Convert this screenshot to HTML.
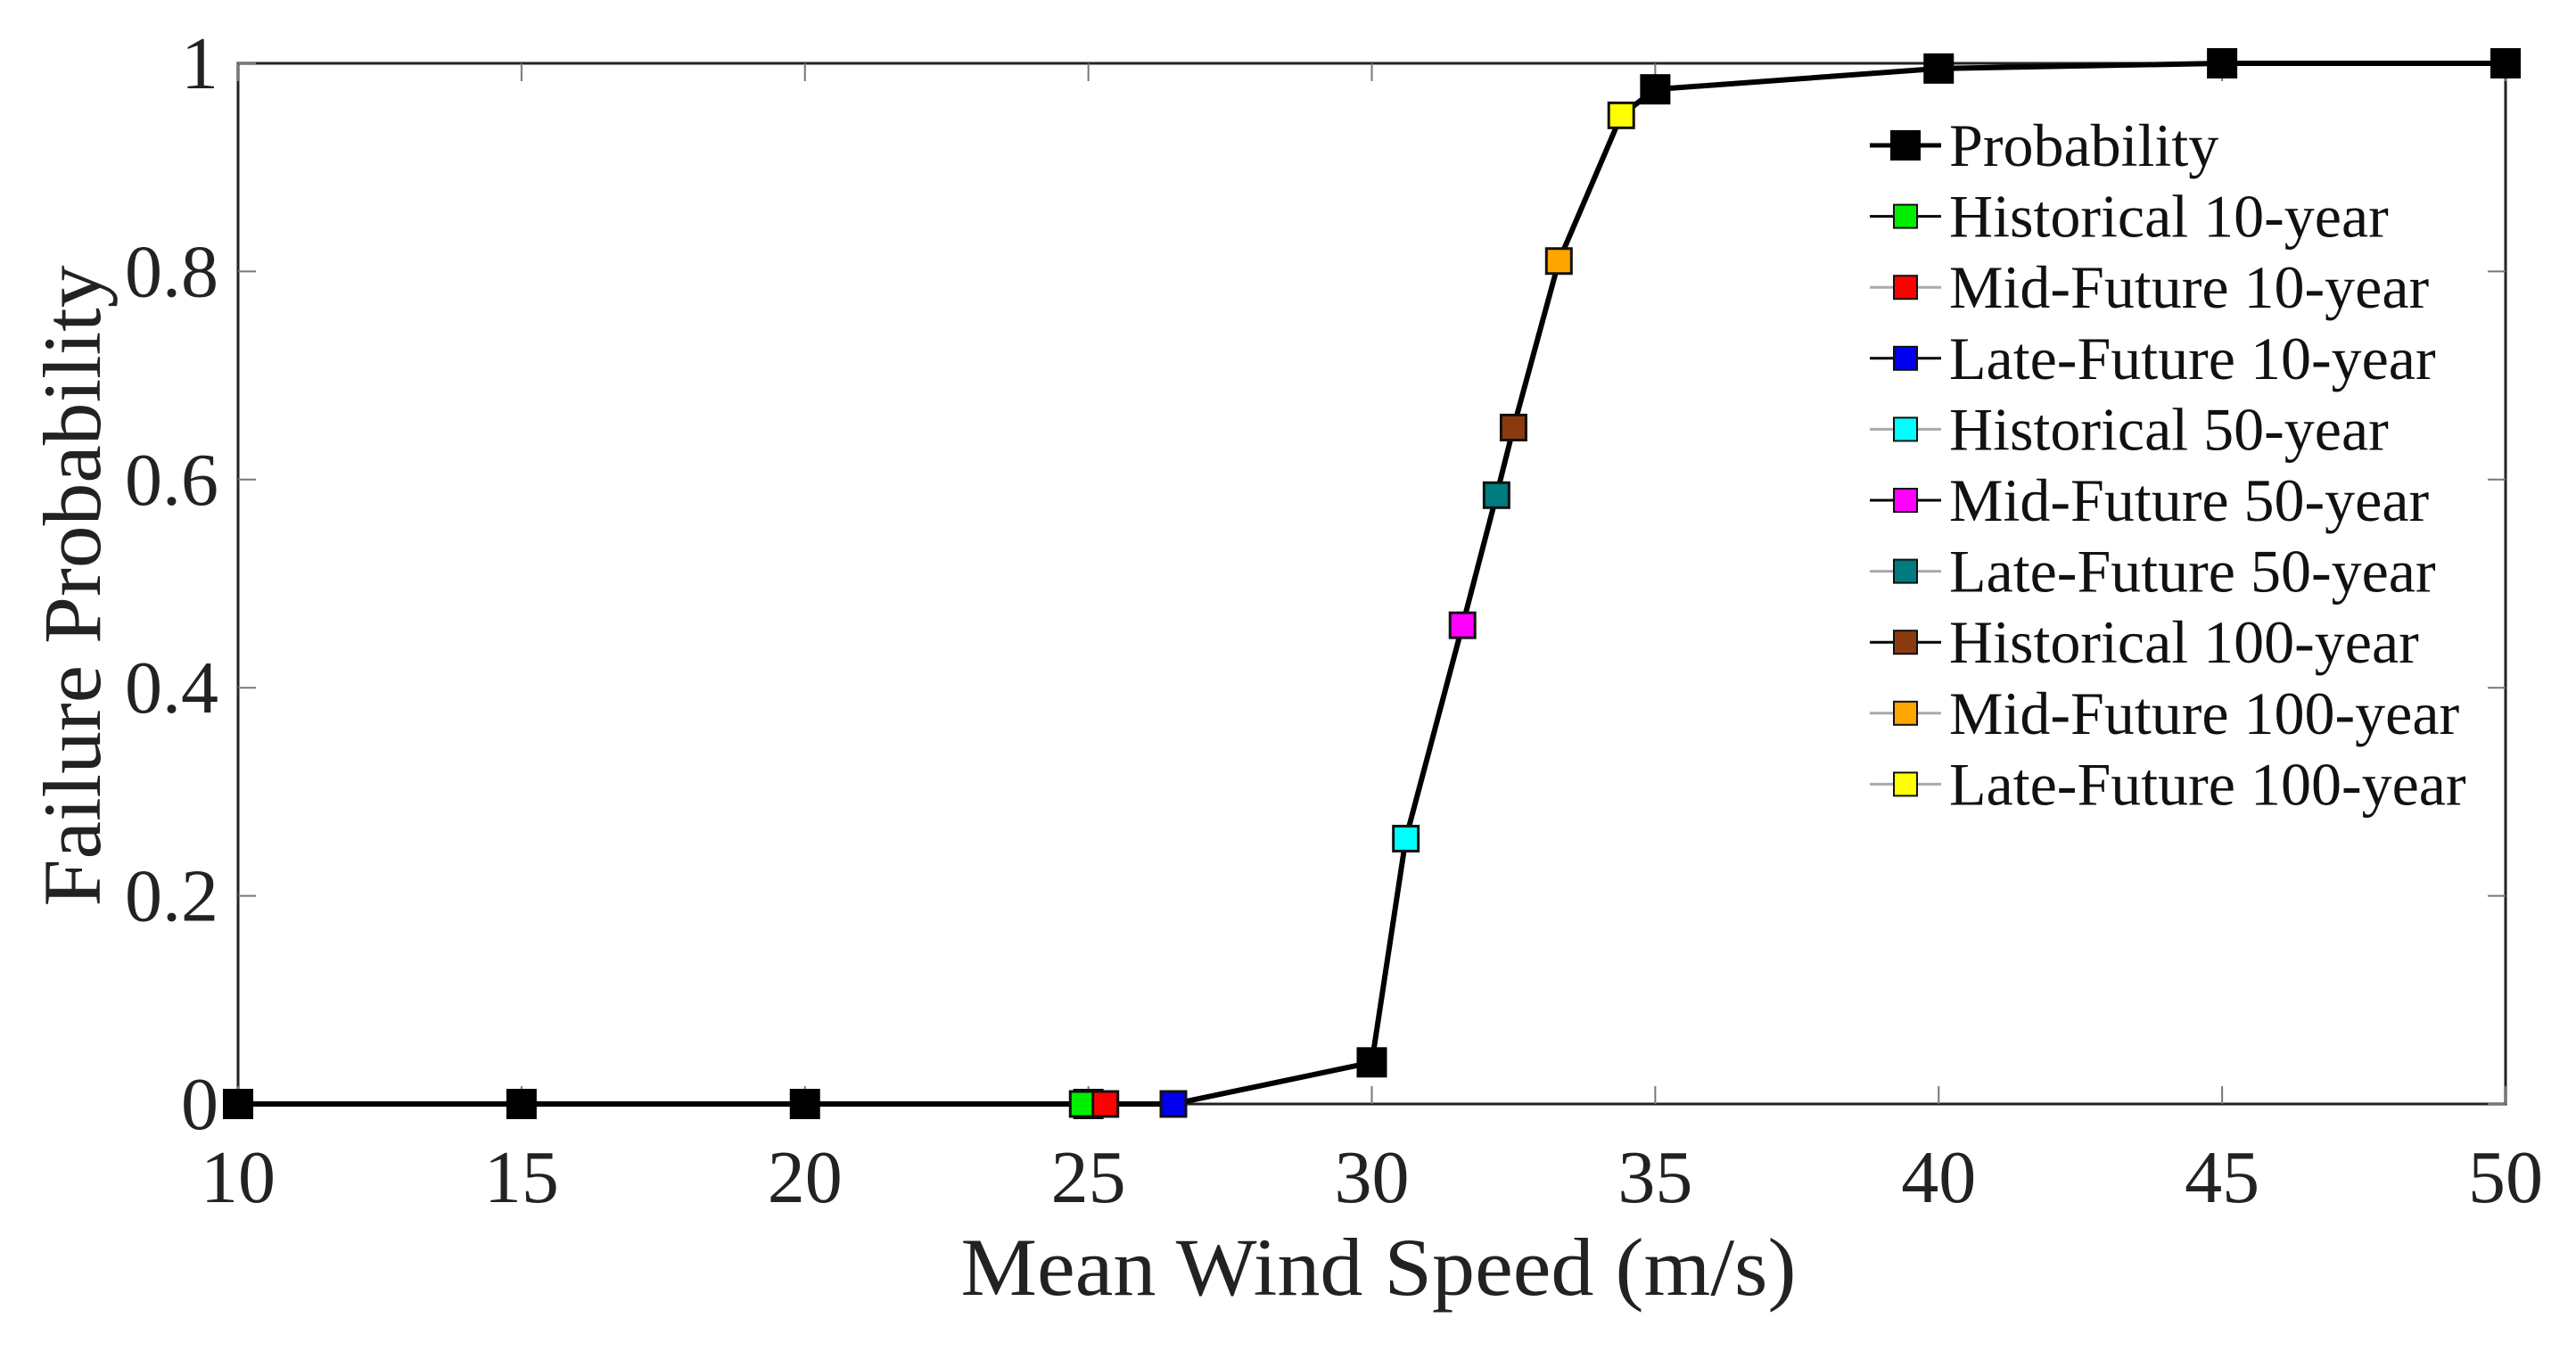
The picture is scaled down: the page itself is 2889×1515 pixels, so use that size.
<!DOCTYPE html>
<html><head><meta charset="utf-8"><style>
html,body{margin:0;padding:0;background:#fff;}
svg{display:block;font-family:"Liberation Serif",serif;}
</style></head><body>
<svg id="chart" width="2889" height="1515" viewBox="0 0 2889 1515">
<rect x="0" y="0" width="2889" height="1515" fill="#fff"/>
<g id="plot"></g>
</svg>
<script>
const curveX = [10, 15, 20, 25, 30, 35, 40, 45, 50];
const curveY = [0, 0, 0, 0, 0.04, 0.975, 0.995, 1, 1];
const scenarioNames = ["Historical 10-year","Mid-Future 10-year","Late-Future 10-year","Historical 50-year","Mid-Future 50-year","Late-Future 50-year","Historical 100-year","Mid-Future 100-year","Late-Future 100-year"];
const scenarioX = [24.9, 25.3, 26.5, 30.6, 31.6, 32.2, 32.5, 33.3, 34.4];
const scenarioY = [0, 0, 0, 0.255, 0.46, 0.585, 0.65, 0.81, 0.95];
const scenarioColors = ["#00ee00","#ff0000","#0000ee","#00ffff","#ff00ff","#007b80","#8b3a10","#ffa500","#ffff00"];
const legendLineColors = ["#000","#aaa","#000","#aaa","#000","#aaa","#000","#aaa","#aaa"];
const xTicks = [10, 15, 20, 25, 30, 35, 40, 45, 50];
const yTicks = [0, 0.2, 0.4, 0.6, 0.8, 1];
const yTickLabels = ["0","0.2","0.4","0.6","0.8","1"];

const X0=267, X1=2810, Y0=1238, Y1=71;
const sx = v => X0 + (v-10)/(50-10)*(X1-X0);
const sy = v => Y0 - v*(Y0-Y1);
const NS="http://www.w3.org/2000/svg";
const g=document.getElementById('plot');
function mk(tag, attrs, parent){const e=document.createElementNS(NS,tag);for(const k in attrs)e.setAttribute(k,attrs[k]);(parent||g).appendChild(e);return e;}

const box=mk('rect',{x:X0,y:Y1,width:X1-X0,height:Y0-Y1,fill:'none',stroke:'#222','stroke-width':3});



xTicks.forEach(t=>{
  const x=sx(t);
  const tk=mk('path',{d:`M${x},${Y0}v-20M${x},${Y1}v20`,stroke:'#777','stroke-width':2});
  
  
  const lb=mk('text',{x:x,y:1348,'text-anchor':'middle','font-size':84,fill:'#222'});
  lb.textContent=String(t);
  
  
});
yTicks.forEach((t,i)=>{
  const y=sy(t);
  const tk=mk('path',{d:`M${X0},${y}h20M${X1},${y}h-20`,stroke:'#777','stroke-width':2});
  
  
  const lb=mk('text',{x:245,y:y+28,'text-anchor':'end','font-size':84,fill:'#222'});
  lb.textContent=yTickLabels[i];
  
  
});

const xt=mk('text',{x:1546,y:1452,'text-anchor':'middle','font-size':92,fill:'#222',textLength:937,lengthAdjust:'spacingAndGlyphs'});
xt.textContent='Mean Wind Speed (m/s)';


const yt=mk('text',{x:0,y:0,'text-anchor':'middle','font-size':92,fill:'#222',textLength:719,lengthAdjust:'spacingAndGlyphs',transform:'translate(112,657) rotate(-90)'});
yt.textContent='Failure Probability';



const pts=curveX.map((x,i)=>[x,curveY[i]]).concat(scenarioX.map((x,i)=>[x,scenarioY[i]])).sort((a,b)=>a[0]-b[0]);
const line=mk('polyline',{points:pts.map(p=>sx(p[0])+','+sy(p[1])).join(' '),fill:'none',stroke:'#000','stroke-width':6,'stroke-linejoin':'round'});



const M=34;
curveX.forEach((x,i)=>{
  const r=mk('rect',{x:sx(x)-M/2,y:sy(curveY[i])-M/2,width:M,height:M,fill:'#000'});
  
  
});
const m2=28;
scenarioX.forEach((x,i)=>{
  const r=mk('rect',{x:sx(x)-m2/2,y:sy(scenarioY[i])-m2/2,width:m2,height:m2,fill:scenarioColors[i],stroke:'#111','stroke-width':3});
  
  
});

const LX=2137, LY0=163, LS=79.6;
function legendRow(idx,label,color,lineColor,isMain){
  const y=LY0+idx*LS;
  const grp=mk('g',{});
  
  
  mk('line',{x1:LX-40,y1:y,x2:LX+40,y2:y,stroke:lineColor,'stroke-width':isMain?5:3},grp);
  const s=isMain?34:26;
  mk('rect',{x:LX-s/2,y:y-s/2,width:s,height:s,fill:color,stroke:isMain?'none':'#111','stroke-width':2},grp);
  const t=mk('text',{x:2186,y:y+23,'font-size':68,fill:'#111'},grp);
  t.textContent=label;
}
legendRow(0,'Probability','#000','#000',true);
scenarioNames.forEach((n,i)=>legendRow(i+1,n,scenarioColors[i],legendLineColors[i],false));
</script>
</body></html>
